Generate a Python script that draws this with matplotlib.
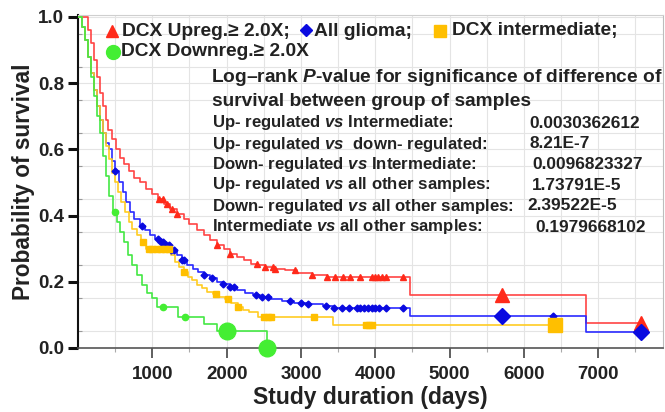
import matplotlib
matplotlib.use("Agg")
import matplotlib.pyplot as plt
import numpy as np

plt.rcParams['font.family'] = ['Liberation Sans', 'DejaVu Sans']
plt.rcParams['font.weight'] = 'bold'
plt.rcParams['mathtext.fontset'] = 'custom'
plt.rcParams['mathtext.it'] = 'Liberation Sans:italic:bold'
plt.rcParams['mathtext.rm'] = 'Liberation Sans:bold'

# Kaplan-Meier step points (time in days, survival after step)
up_t = [0, 130, 170, 210, 250, 290, 330, 370, 410, 460, 510, 560, 620, 680, 760, 840,
        920, 1000, 1080, 1160, 1240, 1330, 1420, 1500, 1600, 1690, 1780, 1870, 1960,
        2050, 2140, 2230, 2330, 2420, 2520, 2650, 2780, 2950, 3150, 3350, 4460, 6840]
up_s = [1.0, 0.96, 0.92, 0.87, 0.82, 0.77, 0.73, 0.69, 0.66, 0.63, 0.60, 0.575, 0.555,
        0.535, 0.515, 0.50, 0.48, 0.465, 0.45, 0.435, 0.42, 0.405, 0.39, 0.375, 0.355,
        0.34, 0.325, 0.31, 0.30, 0.285, 0.275, 0.265, 0.255, 0.25, 0.245, 0.24, 0.235,
        0.228, 0.222, 0.213, 0.16, 0.076]
up_end = 7570
up_cens = [1090, 1150, 1200, 1260, 1330, 1870, 2050, 2410, 2520, 2620, 2650, 2920, 3150,
           3350, 3460, 3570, 3660, 3800, 3960, 4000, 4040, 4090, 4150, 4375]
up_big = [5700, 7570]

all_t = [0, 60, 100, 140, 180, 220, 260, 300, 340, 380, 420, 460, 500, 550, 600, 650,
         700, 760, 830, 900, 970, 1040, 1100, 1170, 1240, 1330, 1400, 1470, 1550, 1620,
         1700, 1780, 1870, 1950, 2040, 2140, 2250, 2350, 2450, 2600, 2750, 2900, 3100,
         3300, 3430, 4460, 6840]
all_s = [1.0, 0.97, 0.93, 0.88, 0.83, 0.78, 0.73, 0.69, 0.65, 0.62, 0.60, 0.565, 0.535,
         0.50, 0.47, 0.44, 0.41, 0.39, 0.37, 0.355, 0.34, 0.33, 0.32, 0.31, 0.295, 0.28,
         0.265, 0.25, 0.24, 0.23, 0.22, 0.21, 0.2, 0.192, 0.183, 0.175, 0.167, 0.16,
         0.153, 0.147, 0.141, 0.137, 0.133, 0.127, 0.12, 0.097, 0.048]
all_end = 7570
all_cens = [500, 860, 1080, 1120, 1150, 1180, 1220, 1250, 1290, 1400, 1430, 1700, 1800,
            1950, 2050, 2100, 2400, 2480, 2550, 2850, 3000, 3100, 3330, 3450, 3550, 3650,
            3750, 3800, 3850, 3900, 3950, 4000, 4050, 4150, 4375, 6390]
all_big = [5700, 7570]

mid_t = [0, 60, 100, 140, 180, 220, 260, 300, 340, 380, 420, 460, 500, 540, 580, 630,
         680, 730, 790, 850, 920, 1250, 1300, 1360, 1420, 1480, 1540, 1600, 1670, 1740,
         1820, 1900, 1980, 2060, 2150, 2220, 2300, 2420, 2760, 3430]
mid_s = [1.0, 0.97, 0.93, 0.88, 0.83, 0.78, 0.73, 0.69, 0.65, 0.61, 0.57, 0.53, 0.50,
         0.47, 0.44, 0.41, 0.38, 0.36, 0.34, 0.32, 0.30, 0.28, 0.26, 0.245, 0.23, 0.215,
         0.205, 0.19, 0.18, 0.17, 0.162, 0.155, 0.148, 0.135, 0.124, 0.116, 0.109, 0.094,
         0.094, 0.07]
mid_end = 6420
mid_cens = [880, 960, 1000, 1060, 1120, 1170, 1230, 1430, 1850, 2020, 2150, 2500, 2550,
            2600, 3170, 3870, 3920, 3960]
mid_big = [6420]

down_t = [0, 50, 90, 130, 170, 210, 250, 290, 330, 370, 420, 470, 520, 570, 620, 670,
          720, 790, 860, 930, 1000, 1063, 1350, 1690, 1870, 2540]
down_s = [1.0, 0.97, 0.93, 0.88, 0.82, 0.76, 0.70, 0.65, 0.58, 0.52, 0.46, 0.41, 0.38,
          0.35, 0.32, 0.28, 0.25, 0.22, 0.19, 0.165, 0.15, 0.124, 0.094, 0.072, 0.051, 0.0]
down_end = 2540
down_cens = [500, 1150, 1440]
down_big = [2000, 2540]

groups = [
    (up_t, up_s, up_end, up_cens, up_big, '#ff4444', '#ff2a1a', '^', 4, 10),
    (all_t, all_s, all_end, all_cens, all_big, '#2a2aff', '#0a0ae0', 'D', 3.5, 8.5),
    (mid_t, mid_s, mid_end, mid_cens, mid_big, '#ffcc22', '#ffbf00', 's', 4, 10),
    (down_t, down_s, down_end, down_cens, down_big, '#44e844', '#44ee33', 'o', 4.5, 12),
]

fig = plt.figure(figsize=(6.65, 4.12), dpi=100)
ax = fig.add_axes([78 / 665, 1 - 348 / 412, (663 - 78) / 665, (348 - 15) / 412])

for t, s, end, cens, big, lc, mc, mk, ms, bms in groups:
    tt = list(t) + [end]
    ss = list(s) + [s[-1]]
    ax.step(tt, ss, where='post', color=lc, lw=1.2, zorder=3)
    ti = np.array(t)
    si = np.array(s)
    cy = si[np.searchsorted(ti, cens, side='right') - 1]
    ax.plot(cens, cy, ls='none', marker=mk, ms=ms, color=mc, mec=mc, zorder=4)
    by = si[np.searchsorted(ti, big, side='right') - 1]
    ax.plot(big, by, ls='none', marker=mk, ms=bms, color=mc, mec=mc, zorder=5,
            clip_on=False)

ax.set_xlim(0, 7870)
ax.set_ylim(0, 1.006)
ax.set_xticks([1000, 2000, 3000, 4000, 5000, 6000, 7000])
ax.set_xticks(np.arange(500, 7870, 1000), minor=True)
ax.set_yticks([0.0, 0.2, 0.4, 0.6, 0.8, 1.0])
ax.set_yticks(np.arange(0.05, 1.0, 0.1), minor=True)
ax.set_yticklabels(['0.0', '0.2', '0.4', '0.6', '0.8', '1.0'])
ax.grid(True, which='both', color='#e4e4e4', lw=0.8, zorder=0)
ax.set_axisbelow(True)
ax.tick_params(axis='y', which='major', length=7, width=2.2, color='#111', labelsize=13.5,
               pad=3, labelcolor='#222')
ax.tick_params(axis='y', which='minor', length=3, width=0.8, color='#999', direction='in')
ax.tick_params(axis='x', which='major', length=7, width=1.2, color='#444', labelsize=13.5,
               pad=6, labelcolor='#222')
ax.tick_params(axis='x', which='minor', length=3, width=0.8, color='#aaa')
ax.spines['left'].set_color('#111')
ax.spines['left'].set_linewidth(1.5)
ax.spines['bottom'].set_color('#555')
ax.spines['bottom'].set_linewidth(1.2)
ax.spines['top'].set_color('#cfcfcf')
ax.spines['right'].set_color('#bdbdbd')
ax.set_ylabel('Probability of survival', fontsize=16.3, fontweight='bold', color='#222',
              labelpad=2)
ax.set_xlabel('Study duration (days)', fontsize=16.5, fontweight='bold', color='#222',
              labelpad=2)


def fx(px):
    return px / 665


def fy(py):
    return 1 - py / 412


# legend drawn inside the plot area
leg_marks = [(112, 31, '^', 9, '#ff2a1a'), (306, 30, 'D', 6.5, '#0a0ae0'),
             (440, 31, 's', 8, '#ffbf00'), (113, 52, 'o', 10, '#44ee33')]
for px, py, mk, ms, c in leg_marks:
    fig.lines.append(plt.Line2D([fx(px)], [fy(py)], marker=mk, ms=ms, color=c, mec=c,
                                transform=fig.transFigure))
leg_texts = [(122, 31, 'DCX Upreg.≥ 2.0X;'), (314, 31, 'All glioma;'),
             (452, 31, 'DCX intermediate;'), (121, 52, 'DCX Downreg.≥ 2.0X')]
for px, py, s in leg_texts:
    fig.text(fx(px), fy(py), s, fontsize=13.8, fontweight='bold', color='#222',
             ha='left', va='center')

fig.text(fx(211), fy(78), 'Log–rank $P$-value for significance of difference of',
         fontsize=13.8, fontweight='bold', color='#222', ha='left', va='center')
fig.text(fx(212), fy(101), 'survival between group of samples',
         fontsize=13.8, fontweight='bold', color='#222', ha='left', va='center')

row_labels = ['Up- regulated $vs$ Intermediate:',
              'Up- regulated $vs$  down- regulated:',
              'Down- regulated $vs$ Intermediate:',
              'Up- regulated $vs$ all other samples:',
              'Down- regulated $vs$ all other samples:',
              'Intermediate $vs$ all other samples:']
row_values = ['0.0030362612', '8.21E-7', '0.0096823327', '1.73791E-5', '2.39522E-5',
              '0.1979668102']
row_y = [123, 144, 164, 185, 206, 227]
row_vx = [529, 530, 532, 532, 527, 535]
for lab, val, py, vx in zip(row_labels, row_values, row_y, row_vx):
    fig.text(fx(212), fy(py), lab, fontsize=12.1, fontweight='bold', color='#222',
             ha='left', va='center')
    fig.text(fx(vx), fy(py), val, fontsize=12.4, fontweight='bold', color='#222',
             ha='left', va='center')

fig.savefig('out.png', dpi=100, facecolor='white')
